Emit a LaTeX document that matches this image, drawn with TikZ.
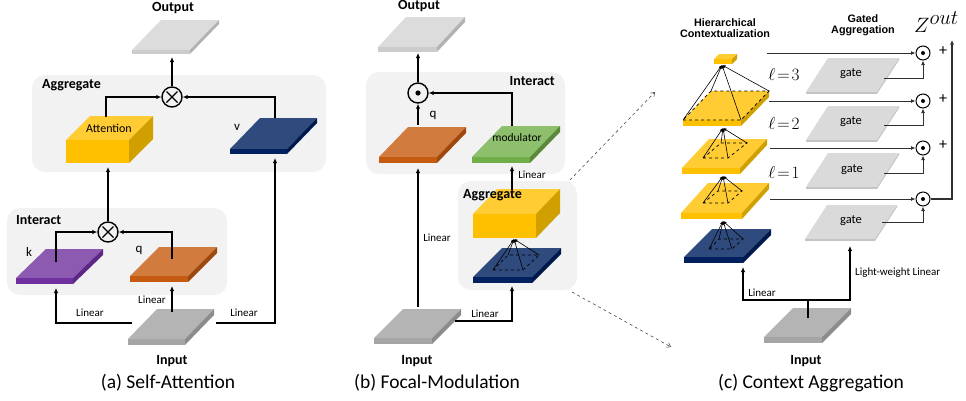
\documentclass[tikz,border=0pt]{standalone}
\usepackage{fontspec}
\setmainfont{Carlito}
\newfontfamily\hfont{Liberation Sans}
\usetikzlibrary{arrows.meta}
\definecolor{boxgray}{HTML}{F2F2F2}
\definecolor{otop}{HTML}{DCDCDC}\definecolor{ofront}{HTML}{CCCCCC}\definecolor{oside}{HTML}{B2B2B2}
\definecolor{itop}{HTML}{B4B4B4}\definecolor{ifront}{HTML}{A5A5A5}\definecolor{iside}{HTML}{8C8C8C}
\definecolor{ytop}{HTML}{FFCC33}\definecolor{yfront}{HTML}{FFC000}\definecolor{yside}{HTML}{CFA000}
\definecolor{btop}{HTML}{2F4A7D}\definecolor{bfront}{HTML}{002060}\definecolor{bside}{HTML}{00194D}
\definecolor{ptop}{HTML}{8C5AB0}\definecolor{pfront}{HTML}{7030A0}\definecolor{pside}{HTML}{5C2785}
\definecolor{rtop}{HTML}{D27B3F}\definecolor{rfront}{HTML}{C55A11}\definecolor{rside}{HTML}{9E480E}
\definecolor{gtop}{HTML}{8DBF6C}\definecolor{gfront}{HTML}{70AD47}\definecolor{gside}{HTML}{5A8A39}
\definecolor{gatetop}{HTML}{DADADA}\definecolor{gatefront}{HTML}{C4C4C4}
\definecolor{linegray}{HTML}{303030}
% x y w dx dy t top front side
\newcommand{\mkslab}[9]{%
  \fill[#7] (#1,#2) -- ++(#3,0) -- ++(#4,-#5) -- ++(-#3,0) -- cycle;
  \fill[#8] (#1,#2) rectangle ++(#3,#6);
  \fill[#9] (#1+#3,#2) -- ++(#4,-#5) -- ++(0,#6) -- ++(-#4,#5) -- cycle;
}
\newcommand{\mkpyr}[5]{%
  \draw[dashed, line width=0.7pt] #1 -- #2 -- #3 -- #4 -- cycle;
  \draw[pyr] #1 -- #5; \draw[pyr] #2 -- #5; \draw[pyr] #3 -- #5; \draw[pyr] #4 -- #5;
}
\begin{document}
\begin{tikzpicture}[x=1pt,y=-1pt,
  arr/.style={line width=1.4pt,-{Latex[length=5pt,width=4.5pt]}},
  carr/.style={line width=0.9pt,draw=linegray,-{Latex[length=4.5pt,width=4pt]}},
  pyr/.style={line width=0.6pt,-{Latex[length=3.5pt,width=3pt]}},
  dasharr/.style={dashed,line width=0.6pt,draw=black!70,-{Straight Barb[length=3.5pt,width=5pt]}},
  panel/.style={fill=boxgray, rounded corners=13pt},
  lbl/.style={font=\fontsize{11}{13}\selectfont, inner sep=0},
  head/.style={font=\fontsize{14}{16}\selectfont\bfseries, inner sep=0},
  ttl/.style={font=\fontsize{19.5}{22}\selectfont, inner sep=0},
  chead/.style={font=\hfont\fontsize{10.8}{12}\selectfont\bfseries, inner sep=0},
  op/.style={circle, draw, line width=1.4pt, minimum size=20pt, inner sep=0pt},
  cop/.style={circle, draw, line width=1pt, minimum size=14pt, inner sep=0pt},
  ml/.style={font=\fontsize{17}{19}\selectfont, inner sep=0},
  plus/.style={font=\fontsize{16}{18}\selectfont, inner sep=0},
]
\useasboundingbox (0,0) rectangle (966,400);

% ---------------- panel (a) ----------------
\fill[panel] (32,75) rectangle (326,172);
\fill[panel] (7,208) rectangle (227,295);
\mkslab{132}{50}{58}{29}{30}{4}{otop}{ofront}{oside}
\mkslab{66}{140}{63}{24}{24}{23}{ytop}{yfront}{yside}
\mkslab{230}{149}{57}{30}{31}{5}{btop}{bfront}{bside}
\mkslab{16}{278}{57}{30}{29}{6}{ptop}{pfront}{pside}
\mkslab{130}{276}{58}{29}{29}{6}{rtop}{rfront}{rside}
\mkslab{128}{339}{57}{29}{30}{6}{itop}{ifront}{iside}

\node[op] (ma) at (172,97) {};
\draw[line width=1.4pt] (ma.center) ++(-5.5,-5.5) -- ++(11,11) (ma.center) ++(-5.5,5.5) -- ++(11,-11);
\node[op] (mb) at (108,232) {};
\draw[line width=1.4pt] (mb.center) ++(-5.5,-5.5) -- ++(11,11) (mb.center) ++(-5.5,5.5) -- ++(11,-11);

\coordinate (aOut) at (172,57);
\coordinate (aAtt) at (106,117);
\coordinate (aAttB) at (108,167);
\coordinate (aV) at (275,118);
\coordinate (aVB) at (275,158);
\coordinate (aK) at (56,262);
\coordinate (aKB) at (56,288);
\coordinate (aQ) at (172,259);
\coordinate (aQB) at (172,286);
\coordinate (aInT) at (172,312);
\coordinate (aInL) at (132,323);
\coordinate (aInR) at (216,323);

\draw[arr] (ma.north) -- (aOut);
\draw[arr] (aAtt) |- (ma.west);
\draw[arr] (aV) |- (ma.east);
\draw[arr] (aK) |- (mb.west);
\draw[arr] (aQ) |- (mb.east);
\draw[arr] (mb.north) -- (aAttB);
\draw[arr] (aInT) -- (aQB);
\draw[arr] (aInL) -| (aKB);
\draw[arr] (aInR) -| (aVB);

\node[head] (aOutT) at (173,8) {Output};
\node[head, anchor=west] (aAggT) at (42,85) {Aggregate};
\node[head, anchor=west] (aIntT) at (16,220) {Interact};
\node[font=\fontsize{12}{14}\selectfont, inner sep=0] (aAttT) at (109,128) {Attention};
\node[font=\fontsize{13}{15}\selectfont, inner sep=0] (aVT) at (237,127) {v};
\node[font=\fontsize{13}{15}\selectfont, inner sep=0] (aKT) at (29,252) {k};
\node[font=\fontsize{13}{15}\selectfont, inner sep=0] (aQT) at (139,250) {q};
\node[lbl] (aL1) at (152,300) {Linear};
\node[lbl] (aL2) at (90,313) {Linear};
\node[lbl] (aL3) at (244,313) {Linear};
\node[head] (aInT2) at (172,361) {Input};
\node[ttl] (aTitle) at (168,383) {(a) Self-Attention};

% ---------------- panel (b) ----------------
\fill[panel] (366,72) rectangle (565,174);
\fill[panel] (458,181) rectangle (577,290);
\mkslab{378}{47}{59}{28}{30}{5}{otop}{ofront}{oside}
\mkslab{379}{157}{58}{29}{30}{6}{rtop}{rfront}{rside}
\mkslab{472}{157}{58}{30}{31}{6}{gtop}{gfront}{gside}
\mkslab{473}{214}{63}{24}{25}{24}{ytop}{yfront}{yside}
\mkslab{473}{277}{59}{29}{29}{6}{btop}{bfront}{bside}
\mkslab{374}{338}{58}{29}{29}{6}{itop}{ifront}{iside}
\mkpyr{(493,270)}{(523,270)}{(539,255)}{(508,255)}{(514,239)}

\node[op] (mc) at (418,93) {};
\fill (mc.center) circle (2.6);
\coordinate (bOut) at (418,53);
\coordinate (bQ) at (418,125);
\coordinate (bQB) at (418,168);
\coordinate (bMod) at (512,126);
\coordinate (bModB) at (512,166);
\coordinate (bAggT) at (512,190);
\coordinate (bInT) at (418,307);
\coordinate (bInR) at (455,321);
\coordinate (bBlueB) at (512,286);

\draw[arr] (mc.north) -- (bOut);
\draw[arr] (bQ) -- (mc.south);
\draw[arr] (bMod) |- (mc.east);
\draw[arr] (bAggT) -- (bModB);
\draw[arr] (bInT) -- (bQB);
\draw[arr] (bInR) -| (bBlueB);

\node[head] (bOutT) at (419,6) {Output};
\node[head, anchor=east] (bIntT) at (555,81) {Interact};
\node[font=\fontsize{13}{15}\selectfont, inner sep=0] (bQT) at (433,115) {q};
\node[font=\fontsize{11.5}{14}\selectfont, inner sep=0] (bModT) at (517,138) {modulator};
\node[lbl] (bL1) at (532,175) {Linear};
\node[head, anchor=west] (bAggT2) at (463,195) {Aggregate};
\node[lbl] (bL2) at (437,238) {Linear};
\node[lbl] (bL3) at (485,314) {Linear};
\node[head] (bInT2) at (417,361) {Input};
\node[ttl] (bTitle) at (437,383) {(b) Focal-Modulation};

% dashed zoom connectors
\coordinate (dz1a) at (570,180);
\coordinate (dz1b) at (655,92);
\coordinate (dz2a) at (572,292);
\coordinate (dz2b) at (671,347);
\draw[dasharr] (dz1a) -- (dz1b);
\draw[dasharr] (dz2a) -- (dz2b);

% ---------------- panel (c) ----------------
\mkslab{684}{257}{59}{28}{28}{6}{btop}{bfront}{bside}
\mkslab{681}{213}{61}{27}{30}{6}{ytop}{yfront}{yside}
\mkslab{682}{168}{58}{27}{29}{6}{ytop}{yfront}{yside}
\mkslab{683}{120}{58}{28}{29}{6}{ytop}{yfront}{yside}
\mkslab{714}{59}{18}{5}{5}{5}{ytop}{yfront}{yside}
\mkpyr{(709,249)}{(732,249)}{(743,239)}{(719,239)}{(723,221)}
\mkpyr{(703,203)}{(728,203)}{(742,191)}{(718,191)}{(723,176)}
\mkpyr{(703,158)}{(728,158)}{(747,143)}{(721,143)}{(723,128)}
\mkpyr{(683,120)}{(741,120)}{(769,91)}{(711,91)}{(722,65)}
\mkslab{806}{92}{71}{22}{34}{2}{gatetop}{gatefront}{gatefront}
\mkslab{806}{140}{71}{22}{34}{2}{gatetop}{gatefront}{gatefront}
\mkslab{806}{187}{71}{22}{34}{2}{gatetop}{gatefront}{gatefront}
\mkslab{805}{239}{70}{22}{34}{2}{gatetop}{gatefront}{gatefront}
\mkslab{764}{337}{58}{29}{29}{6}{itop}{ifront}{iside}

\node[cop] (c3) at (923,53) {}; \fill (c3.center) circle (2);
\node[cop] (c2) at (923,101) {}; \fill (c2.center) circle (2);
\node[cop] (c1) at (923,148) {}; \fill (c1.center) circle (2);
\node[cop] (c0) at (923,199) {}; \fill (c0.center) circle (2);

\coordinate (h3) at (767,53);
\coordinate (h2) at (769,101);
\coordinate (h1) at (770,148);
\coordinate (h0) at (770,199);
\draw[carr] (h3) -- (c3.west);
\draw[carr] (h2) -- (c2.west);
\draw[carr] (h1) -- (c1.west);
\draw[carr] (h0) -- (c0.west);

\coordinate (g3) at (884,78);
\coordinate (g2) at (884,125);
\coordinate (g1) at (884,173);
\coordinate (g0) at (882,222);
\draw[carr] (g3) -| (c3.south);
\draw[carr] (g2) -| (c2.south);
\draw[carr] (g1) -| (c1.south);
\draw[carr] (g0) -| (c0.south);

\coordinate (zTop) at (952,40);
\draw[line width=1.5pt, draw=linegray, -{Latex[length=4.5pt,width=4pt]}] (c0.east) -| (zTop);

\coordinate (cInT) at (808,318);
\coordinate (cJoin) at (808,300);
\coordinate (cBlueB) at (743,267);
\coordinate (cGateB) at (850,246);
\draw[line width=1.4pt] (cInT) -- (cJoin);
\draw[arr] (cJoin) -| (cBlueB);
\draw[arr] (cJoin) -| (cGateB);

\node[chead, align=center] (cHC) at (725,28) {Hierarchical\\[-1.5pt]Contextualization};
\node[chead, align=center] (cGA) at (863,25) {Gated\\[-1.5pt]Aggregation};
\node[inner sep=0, anchor=base west, font=\fontsize{22}{24}\selectfont] (cZ) at (914,32) {$Z^{\displaystyle out}$};
\node[ml] (l3) at (784,74) {$\ell\!=\!3$};
\node[ml] (l2) at (784,123) {$\ell\!=\!2$};
\node[ml] (l1) at (784,172) {$\ell\!=\!1$};
\node[font=\fontsize{12.5}{14}\selectfont, inner sep=0] (gt3) at (851,74) {gate};
\node[font=\fontsize{12.5}{14}\selectfont, inner sep=0] (gt2) at (851,122) {gate};
\node[font=\fontsize{12.5}{14}\selectfont, inner sep=0] (gt1) at (852,170) {gate};
\node[font=\fontsize{12.5}{14}\selectfont, inner sep=0] (gt0) at (851,221) {gate};
\node[plus] (p3) at (943,51) {+};
\node[plus] (p2) at (943,99) {+};
\node[plus] (p1) at (943,145) {+};
\node[lbl] (cL1) at (762,293) {Linear};
\node[lbl, anchor=west] (cL2) at (855,273) {Light-weight Linear};
\node[head] (cInT2) at (806,361) {Input};
\node[ttl] (cTitle) at (811,383) {(c) Context Aggregation};
\end{tikzpicture}
\end{document}
